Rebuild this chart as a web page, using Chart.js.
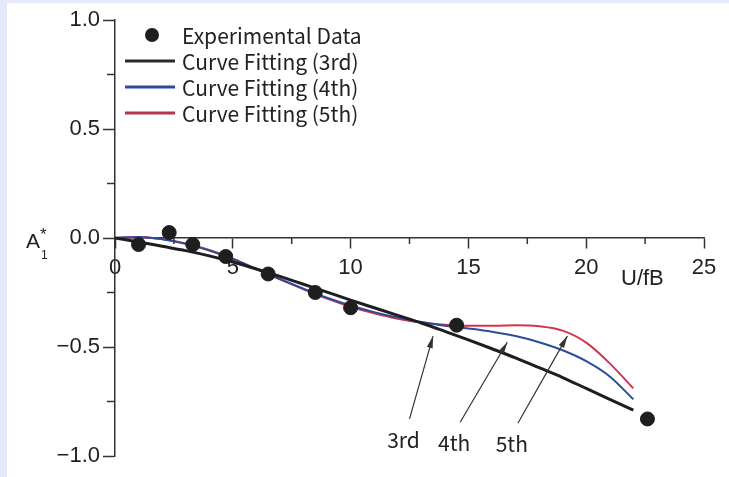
<!DOCTYPE html>
<html>
<head>
<meta charset="utf-8">
<script src="https://cdn.jsdelivr.net/npm/chart.js@4/dist/chart.umd.min.js"></script>
<style>
  html, body { margin: 0; padding: 0; background: #fff; }
</style>
</head>
<body>
<canvas id="chart1" width="729" height="477"></canvas>
<script>
// values

var expX = [1.0, 2.3, 3.3, 4.7, 6.5, 8.5, 10.0, 14.5, 22.6];
var expY = [-0.03, 0.025, -0.03, -0.085, -0.165, -0.25, -0.32, -0.40, -0.83];

var fitX = [0, 1, 2, 3, 4, 5, 6, 7, 8, 9, 10, 11, 12, 13, 14, 15, 16, 17, 18, 19, 20, 21, 22];
var fit3rd = [0, -0.018, -0.038, -0.058, -0.082, -0.11, -0.142, -0.176, -0.212, -0.248, -0.285,
              -0.32, -0.355, -0.39, -0.428, -0.467, -0.508, -0.55, -0.595, -0.64, -0.69, -0.74, -0.79];
var fit4th = [0, 0.005, -0.006, -0.027, -0.057, -0.096, -0.142, -0.188, -0.232, -0.274, -0.31,
              -0.34, -0.365, -0.385, -0.402, -0.415, -0.43, -0.45, -0.478, -0.515, -0.565, -0.635, -0.74];
var fit5th = [0, 0.005, -0.005, -0.025, -0.055, -0.095, -0.142, -0.19, -0.235, -0.278, -0.315,
              -0.345, -0.37, -0.388, -0.398, -0.403, -0.403, -0.4, -0.405, -0.425, -0.48, -0.575, -0.69];

var seriesNames = ['Experimental Data', 'Curve Fitting (3rd)', 'Curve Fitting (4th)', 'Curve Fitting (5th)'];
var xTicks = [0, 5, 10, 15, 20, 25];
var yTicks = [-1.0, -0.5, 0.0, 0.5, 1.0];
var xMinorTicks = [2.5, 7.5, 12.5, 17.5, 22.5];
var yMinorTicks = [-0.75, -0.25, 0.25, 0.75];

// arrows pointing at the fitted curves (data units)
var arrowNames = ['3rd', '4th', '5th'];
var arrowTailX = [12.5, 14.65, 17.1];
var arrowTailY = [-0.83, -0.845, -0.85];
var arrowHeadX = [13.5, 16.65, 19.2];
var arrowHeadY = [-0.45, -0.478, -0.45];

function pts(xs, ys) {
  return xs.map(function (x, i) { return { x: x, y: ys[i] }; });
}

var colors = ['#1e1e1e', '#1e1e1e', '#2b4c9c', '#d2334f'];
var legendColors = ['#1e1e1e', '#2a2a2a', '#2b4c9c', '#b23552'];
var tickFont = { family: 'Liberation Sans', size: 22 };
var textFont = '21px "Noto Sans CJK JP"';

var extras = {
  id: 'extras',
  beforeDraw: function (chart) {
    var ctx = chart.ctx;
    ctx.save();
    ctx.fillStyle = '#e3e8fb';
    ctx.fillRect(0, 0, chart.width, chart.height);
    ctx.fillStyle = '#ffffff';
    ctx.fillRect(7, 3, chart.width - 7, chart.height - 3);
    ctx.restore();
  },
  afterDraw: function (chart) {
    var ctx = chart.ctx;
    var xs = chart.scales.x, ys = chart.scales.y;
    var x0 = xs.getPixelForValue(0), y0 = ys.getPixelForValue(0);
    ctx.save();

    // minor ticks
    ctx.strokeStyle = '#333';
    ctx.lineWidth = 1.5;
    xMinorTicks.forEach(function (v) {
      var px = xs.getPixelForValue(v);
      ctx.beginPath(); ctx.moveTo(px, y0); ctx.lineTo(px, y0 + 6); ctx.stroke();
    });
    yMinorTicks.forEach(function (v) {
      var py = ys.getPixelForValue(v);
      ctx.beginPath(); ctx.moveTo(x0, py); ctx.lineTo(x0 - 8, py); ctx.stroke();
    });

    // axis titles
    ctx.fillStyle = '#222';
    ctx.textBaseline = 'alphabetic';
    ctx.textAlign = 'left';
    ctx.font = '21px "Liberation Sans"';
    ctx.fillText('A', 26, 248);
    ctx.font = '12px "Liberation Sans"';
    ctx.fillText('1', 41, 259);
    ctx.font = '17px "Liberation Sans"';
    ctx.fillText('*', 40, 240);
    ctx.font = '22px "Liberation Sans"';
    ctx.fillText('U/fB', 621, 285);

    // legend
    ctx.font = textFont;
    ctx.textBaseline = 'middle';
    var rowY = [35, 61, 87, 113];
    seriesNames.forEach(function (name, i) {
      if (i === 0) {
        ctx.fillStyle = legendColors[0];
        ctx.beginPath(); ctx.arc(152, rowY[i], 7, 0, Math.PI * 2); ctx.fill();
      } else {
        ctx.strokeStyle = legendColors[i];
        ctx.lineWidth = 3;
        ctx.beginPath(); ctx.moveTo(125, rowY[i]); ctx.lineTo(175, rowY[i]); ctx.stroke();
      }
      ctx.fillStyle = '#222';
      ctx.fillText(name, 182, rowY[i] + 1);
    });

    // arrows and their labels
    ctx.strokeStyle = '#333';
    ctx.fillStyle = '#333';
    ctx.lineWidth = 1.2;
    ctx.textAlign = 'center';
    arrowNames.forEach(function (name, i) {
      var tx = xs.getPixelForValue(arrowTailX[i]), ty = ys.getPixelForValue(arrowTailY[i]);
      var hx = xs.getPixelForValue(arrowHeadX[i]), hy = ys.getPixelForValue(arrowHeadY[i]);
      var ang = Math.atan2(hy - ty, hx - tx);
      ctx.beginPath(); ctx.moveTo(tx, ty); ctx.lineTo(hx, hy); ctx.stroke();
      ctx.beginPath();
      ctx.moveTo(hx, hy);
      ctx.lineTo(hx - 12 * Math.cos(ang) + 3 * Math.sin(ang), hy - 12 * Math.sin(ang) - 3 * Math.cos(ang));
      ctx.lineTo(hx - 12 * Math.cos(ang) - 3 * Math.sin(ang), hy - 12 * Math.sin(ang) + 3 * Math.cos(ang));
      ctx.closePath(); ctx.fill();
      ctx.fillStyle = '#222';
      ctx.fillText(name, tx - 6, ty + 21);
      ctx.fillStyle = '#333';
    });

    ctx.restore();
  }
};

var graph = document.getElementById('chart1');

var myChart = new Chart(graph, {
  type: 'scatter',
  data: {
    datasets: [{
      label: seriesNames[0],
      data: pts(expX, expY),
      backgroundColor: colors[0],
      borderColor: colors[0],
      pointRadius: 7,
      pointHoverRadius: 7
    }, {
      label: seriesNames[1],
      data: pts(fitX, fit3rd),
      showLine: true,
      borderColor: colors[1],
      borderWidth: 3,
      pointRadius: 0,
      cubicInterpolationMode: 'monotone'
    }, {
      label: seriesNames[2],
      data: pts(fitX, fit4th),
      showLine: true,
      borderColor: colors[2],
      borderWidth: 2,
      pointRadius: 0,
      cubicInterpolationMode: 'monotone'
    }, {
      label: seriesNames[3],
      data: pts(fitX, fit5th),
      showLine: true,
      borderColor: colors[3],
      borderWidth: 2,
      pointRadius: 0,
      cubicInterpolationMode: 'monotone'
    }]
  }, // ends data
  options: {
    responsive: false,
    animation: false,
    devicePixelRatio: 1,
    layout: { padding: { left: 55, top: 20, right: 25, bottom: 21 } },
    plugins: {
      legend: { display: false },
      tooltip: { enabled: false }
    },
    scales: {
      x: {
        type: 'linear',
        position: { y: 0 },
        min: 0,
        max: 25,
        afterFit: function (axis) { axis.height = 0; },
        afterBuildTicks: function (axis) { axis.ticks = xTicks.map(function (v) { return { value: v }; }); },
        ticks: { font: tickFont, color: '#222', padding: 7 },
        grid: { drawOnChartArea: false, drawTicks: true, tickLength: 10, tickColor: '#333', tickWidth: 1.5 },
        border: { color: '#333', width: 1.5 }
      },
      y: {
        type: 'linear',
        position: 'left',
        min: -1,
        max: 1,
        afterFit: function (axis) { axis.width = 60; },
        afterBuildTicks: function (axis) { axis.ticks = yTicks.map(function (v) { return { value: v }; }); },
        ticks: {
          font: tickFont,
          color: '#222',
          padding: 3,
          callback: function (v) { return (v < 0 ? '\u2212' : '') + Math.abs(v).toFixed(1); }
        },
        grid: { drawOnChartArea: false, drawTicks: true, tickLength: 12, tickColor: '#333', tickWidth: 1.5 },
        border: { color: '#333', width: 1.5 }
      }
    }
  }, // ends options
  plugins: [extras]
}); // ends the entire variable
</script>
</body>
</html>
